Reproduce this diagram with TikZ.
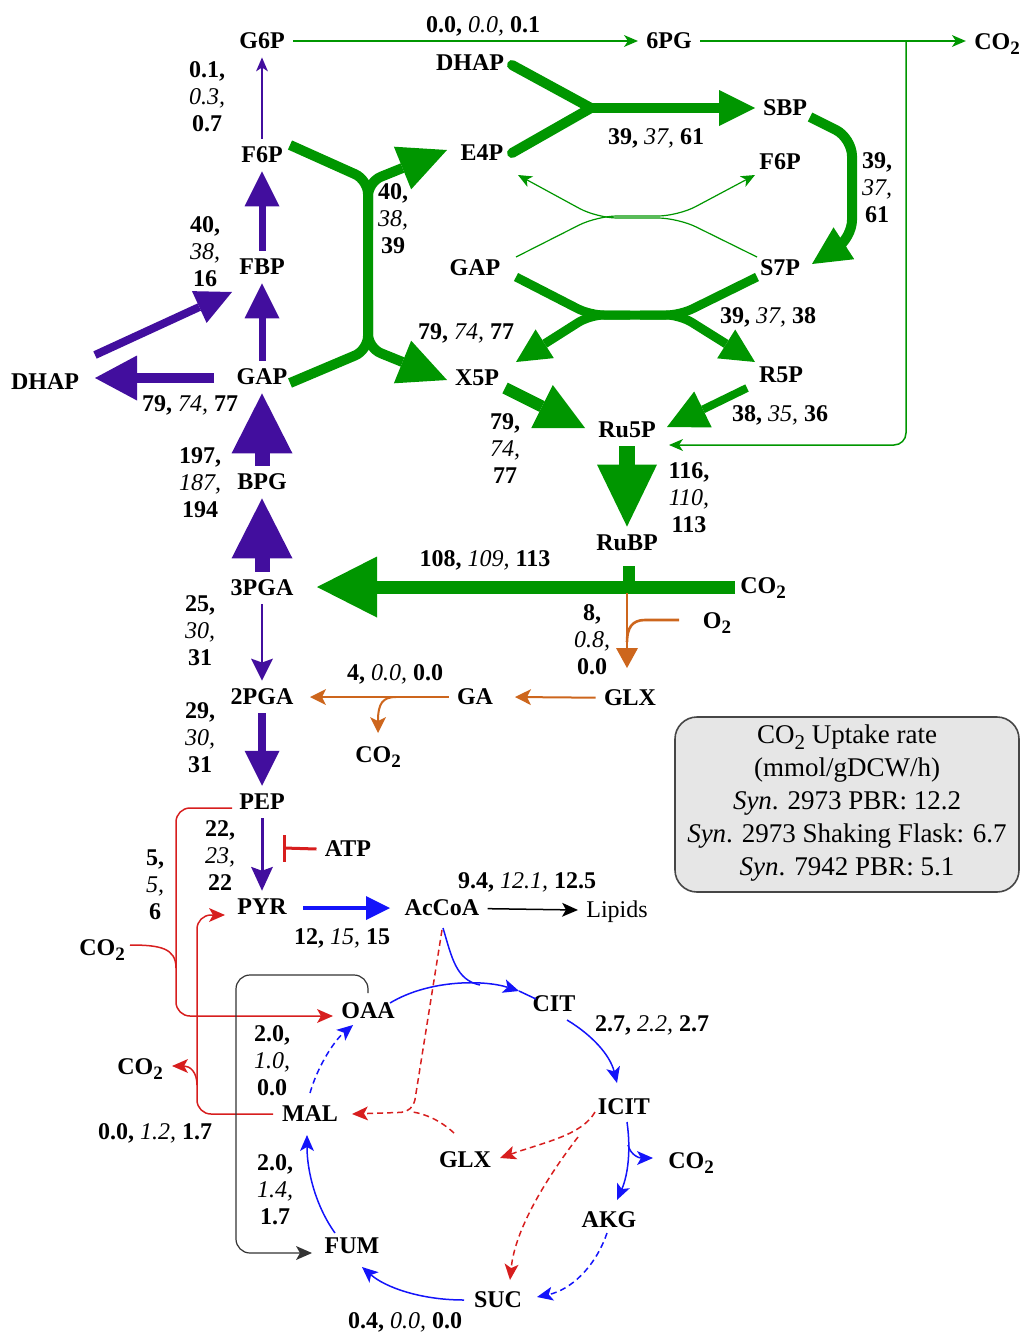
\documentclass[tikz,border=0pt]{standalone}
\usepackage{fontspec}
\setmainfont{Liberation Serif}
\usetikzlibrary{arrows.meta}
\definecolor{pur}{RGB}{66,14,158}
\definecolor{grn}{RGB}{0,150,0}
\definecolor{org}{RGB}{205,102,29}
\definecolor{rd}{RGB}{215,30,30}
\definecolor{blu}{RGB}{20,20,250}
\definecolor{boxfill}{RGB}{230,230,230}
\definecolor{boxdraw}{RGB}{70,70,70}
\newcommand\subtwo{\raisebox{-0.5ex}{\fontsize{9.5}{9.5}\selectfont 2}}
\newcommand\cotwo{CO\subtwo}
\newcommand\fh[3]{\textbf{#1,} \textit{#2,} \textbf{#3}}
\newcommand\fv[3]{\textbf{#1,}\\\textit{#2,}\\\textbf{#3}}
\begin{document}
\begin{tikzpicture}[x=0.5pt,y=-0.5pt,
 met/.style={font=\fontsize{12}{13.5}\selectfont\bfseries, inner sep=4pt},
 lab/.style={font=\fontsize{12}{13.5}\selectfont, align=center, inner sep=0pt},
 tri/.style n args={3}{line width=#1,-{Triangle[length=#2,width=#3,line width=0pt]}},
 stl/.style n args={3}{line width=#1,-{Stealth[length=#2,width=#3,inset=2pt,line width=0pt]}},
 sa/.style={stl={0.75pt}{8pt}{7pt}},
 dsh/.style={dash pattern=on 3pt off 2pt},
]
\useasboundingbox (0,0) rectangle (1021,1333);

% ---------- nodes ----------
\node[met] (g6p) at (262,41) {G6P};
\node[met] (sixpg) at (669,41) {6PG};
\node[met] (co2a) at (997,44) {\cotwo};
\node[met] (dhapT) at (470,63) {DHAP};
\node[met] (e4p) at (482,153) {E4P};
\node[met] (sbp) at (785,108) {SBP};
\node[met] (f6pR) at (780,162) {F6P};
\node[met] (gapM) at (475,268) {GAP};
\node[met] (s7p) at (780,268) {S7P};
\node[met] (f6pL) at (262,155) {F6P};
\node[met] (fbp) at (262,267) {FBP};
\node[met] (gapL) at (262,377) {GAP};
\node[met] (dhapL) at (45,382) {DHAP};
\node[met] (x5p) at (477,378) {X5P};
\node[met] (r5p) at (781,375) {R5P};
\node[met] (ru5p) at (627,430) {Ru5P};
\node[met] (bpg) at (262,482) {BPG};
\node[met] (rubp) at (627,543) {RuBP};
\node[met] (pga3) at (262,588) {3PGA};
\node[met] (co2b) at (763,588) {\cotwo};
\node[met] (o2) at (717,623) {O\subtwo};
\node[met] (pga2) at (262,697) {2PGA};
\node[met] (ga) at (475,697) {GA};
\node[met] (glxA) at (630,698) {GLX};
\node[met] (co2c) at (378,757) {\cotwo};
\node[met] (pep) at (262,802) {PEP};
\node[met] (atp) at (348,849) {ATP};
\node[met] (pyr) at (262,907) {PYR};
\node[met] (accoa) at (442,908) {AcCoA};
\node[met, font=\fontsize{12}{13.5}\selectfont] (lipids) at (617,912) {Lipids};
\node[met] (co2d) at (102,950) {\cotwo};
\node[met] (oaa) at (368,1011) {OAA};
\node[met] (cit) at (554,1004) {CIT};
\node[met] (co2e) at (140,1069) {\cotwo};
\node[met] (mal) at (310,1114) {MAL};
\node[met] (icit) at (624,1107) {ICIT};
\node[met] (glxB) at (465,1160) {GLX};
\node[met] (co2f) at (691,1163) {\cotwo};
\node[met] (akg) at (609,1220) {AKG};
\node[met] (fum) at (352,1246) {FUM};
\node[met] (suc) at (498,1300) {SUC};

% ---------- flux labels ----------
\node[lab] (l1) at (207,97) {\fv{0.1}{0.3}{0.7}};
\node[lab] (l2) at (483,26) {\fh{0.0}{0.0}{0.1}};
\node[lab] (l3) at (205,252) {\fv{40}{38}{16}};
\node[lab] (l4) at (393,219) {\fv{40}{38}{39}};
\node[lab] (l5) at (656,138) {\fh{39}{37}{61}};
\node[lab] (l6) at (877,188) {\fv{39}{37}{61}};
\node[lab] (l7) at (768,317) {\fh{39}{37}{38}};
\node[lab] (l8) at (466,333) {\fh{79}{74}{77}};
\node[lab] (l9) at (190,405) {\fh{79}{74}{77}};
\node[lab] (l10) at (200,483) {\fv{197}{187}{194}};
\node[lab] (l11) at (505,449) {\fv{79}{74}{77}};
\node[lab] (l12) at (780,415) {\fh{38}{35}{36}};
\node[lab] (l13) at (689,498) {\fv{116}{110}{113}};
\node[lab] (l14) at (485,560) {\fh{108}{109}{113}};
\node[lab] (l15) at (200,631) {\fv{25}{30}{31}};
\node[lab] (l16) at (592,640) {\fv{8}{0.8}{0.0}};
\node[lab] (l17) at (395,674) {\fh{4}{0.0}{0.0}};
\node[lab] (l18) at (200,738) {\fv{29}{30}{31}};
\node[lab] (l19) at (220,856) {\fv{22}{23}{22}};
\node[lab] (l20) at (155,885) {\fv{5}{5}{6}};
\node[lab] (l21) at (527,882) {\fh{9.4}{12.1}{12.5}};
\node[lab] (l22) at (342,938) {\fh{12}{15}{15}};
\node[lab] (l23) at (652,1025) {\fh{2.7}{2.2}{2.7}};
\node[lab] (l24) at (272,1061) {\fv{2.0}{1.0}{0.0}};
\node[lab] (l25) at (155,1133) {\fh{0.0}{1.2}{1.7}};
\node[lab] (l26) at (275,1190) {\fv{2.0}{1.4}{1.7}};
\node[lab] (l27) at (405,1322) {\fh{0.4}{0.0}{0.0}};

% ---------- info box ----------
\draw[boxdraw, fill=boxfill, line width=0.8pt, rounded corners=11pt] (675,717) rectangle (1019,892);
\node[font=\fontsize{13.5}{16.5}\selectfont, align=center] (box) at (847,803)
 {CO\raisebox{-0.5ex}{\fontsize{10.5}{10.5}\selectfont 2} Uptake rate\\(mmol/gDCW/h)\\\textit{Syn}. 2973 PBR: 12.2\\\textit{Syn}. 2973 Shaking Flask: 6.7\\\textit{Syn}. 7942 PBR: 5.1};

% ---------- purple (glycolysis) ----------
\draw[pur, stl={0.75pt}{7pt}{6pt}] (f6pL) -- (g6p);
\draw[pur, tri={3.5pt}{17.5pt}{17.5pt}] (fbp) -- (f6pL);
\draw[pur, tri={3.5pt}{17.5pt}{17.5pt}] (gapL) -- (fbp);
\draw[pur, tri={4pt}{18pt}{17.5pt}] (95,355) -- (232,292);
\draw[pur, tri={5pt}{21pt}{22.5pt}] (214,378) -- (95,378);
\draw[pur, tri={7.5pt}{30pt}{30.5pt}] (bpg) -- (gapL);
\draw[pur, tri={7.5pt}{30pt}{30.5pt}] (pga3) -- (bpg);
\draw[pur, stl={1.3pt}{11pt}{11pt}] (pga3) -- (pga2);
\draw[pur, tri={4pt}{17.5pt}{17.5pt}] (pga2) -- (pep);
\draw[pur, stl={1.5pt}{12pt}{11pt}] (pep) -- (pyr);

% ---------- green (Calvin cycle) ----------
\draw[grn, stl={0.75pt}{7pt}{6pt}] (g6p) -- (sixpg);
\draw[grn, stl={0.75pt}{7pt}{6pt}] (sixpg) -- (co2a.west |- sixpg);
\draw[grn, stl={0.75pt}{7pt}{6pt}, rounded corners=6pt] (906,41) -- (906,445) -- (669,445);
\draw[grn, line width=5pt, line cap=round] (512,65) -- (591,108);
\draw[grn, line width=5pt, line cap=round] (512,153) -- (591,108);
\draw[grn, tri={5pt}{18pt}{18pt}] (589,108) -- (755,108);
\draw[grn, tri={5pt}{19pt}{19pt}, rounded corners=9pt] (810,117) -- (852,138) -- (852,238) -- (812,264);
\draw[grn, line width=5pt, rounded corners=7pt] (290,145) -- (368,180) -- (368,350) -- (290,383);
\draw[grn, tri={5pt}{24pt}{23pt}, rounded corners=7pt] (368,230) -- (368,182) -- (447,150);
\draw[grn, tri={5pt}{24pt}{23pt}, rounded corners=7pt] (368,300) -- (368,348) -- (447,380);
\draw[grn, line width=4.5pt, rounded corners=7pt] (516,277) -- (590,315) -- (680,315) -- (757,277);
\draw[grn, tri={4.5pt}{17pt}{17pt}, rounded corners=7pt] (630,315) -- (590,315) -- (516,362);
\draw[grn, tri={4.5pt}{17pt}{17pt}, rounded corners=7pt] (640,315) -- (680,315) -- (755,362);
\draw[grn, stl={0.6pt}{7pt}{6pt}, rounded corners=10pt] (516,257) -- (597,216) -- (678,216) -- (755,175);
\draw[grn, stl={0.6pt}{7pt}{6pt}, rounded corners=10pt] (757,257) -- (678,218) -- (597,218) -- (518,175);
\draw[grn, tri={6pt}{24pt}{24pt}] (505,388) -- (585,428);
\draw[grn, tri={4pt}{20pt}{20pt}] (747,388) -- (667,427);
\draw[grn, tri={8pt}{31pt}{30pt}] (ru5p) -- (rubp);
\draw[grn, tri={6.5pt}{30pt}{30.5pt}] (735,587) -- (317,587);
\draw[grn, line width=6pt] (629,566) -- (629,585);

% ---------- orange (photorespiration) ----------
\draw[org, tri={1.3pt}{10pt}{11pt}] (627,593) -- (627,668);
\draw[org, line width=1.3pt] (679,620) -- (645,620) .. controls (632,620) and (627,628) .. (627,642);
\draw[org, stl={1pt}{8pt}{8pt}] (glxA) -- (515,697);
\draw[org, stl={1pt}{8pt}{8pt}] (ga) -- (310,697);
\draw[org, stl={1pt}{8pt}{8pt}] (396,697) .. controls (383,697) and (378,703) .. (378,733);

% ---------- red ----------
\draw[rd, sa, rounded corners=7pt] (232,808) -- (176,808) -- (176,1016) -- (333,1016);
\draw[rd, line width=0.75pt] (130,945) .. controls (160,945) and (176,948) .. (176,968);
\draw[rd, sa, rounded corners=7pt] (273,1114) -- (197,1114) -- (197,915) -- (225,915);
\draw[rd, sa] (197,1085) .. controls (197,1072) and (190,1066) .. (172,1066);
\draw[rd, line width=1.5pt] (atp.west) -- (284,848);
\draw[rd, line width=1.5pt] (284,835) -- (284,862);

% ---------- blue (TCA) ----------
\draw[blu, tri={2pt}{12pt}{12pt}] (303,908) -- (390,908);
\draw[black, sa] (accoa) -- (578,910);
\draw[blu, sa] (390,1003) .. controls (430,979) and (485,980) .. (519,991);
\draw[blu, line width=0.75pt] (519,991) -- (536,999);
\draw[blu, line width=0.75pt] (443,928) .. controls (452,958) and (456,980) .. (480,985);
\draw[blu, sa] (567,1020) .. controls (592,1035) and (610,1055) .. (617,1083);
\draw[blu, sa] (627,1122) .. controls (631,1150) and (628,1175) .. (617,1200);
\draw[blu, sa] (628,1145) .. controls (631,1156) and (640,1158) .. (653,1158);
\draw[blu, sa, dsh] (607,1233) .. controls (595,1268) and (570,1290) .. (537,1297);
\draw[blu, sa] (464,1300) .. controls (420,1300) and (385,1287) .. (362,1267);
\draw[blu, sa] (335,1233) .. controls (315,1205) and (307,1170) .. (307,1135);
\draw[blu, sa, dsh] (310,1093) .. controls (318,1065) and (335,1040) .. (353,1025);

% ---------- red dashed (glyoxylate shunt) ----------
\draw[rd, sa, dsh] (595,1112) .. controls (582,1135) and (545,1142) .. (500,1158);
\draw[rd, sa, dsh] (578,1137) .. controls (545,1180) and (515,1230) .. (510,1280);
\draw[rd, sa, dsh, rounded corners=6pt] (442,930) -- (413,1112) -- (352,1114);
\draw[rd, dsh, line width=0.75pt] (454,1133) .. controls (440,1120) and (425,1114) .. (413,1112);

% ---------- black bracket ----------
\draw[black!80, stl={0.6pt}{8pt}{7pt}, rounded corners=7pt] (368,993) -- (368,975) -- (236,975) -- (236,1253) -- (312,1253);
\end{tikzpicture}
\end{document}
